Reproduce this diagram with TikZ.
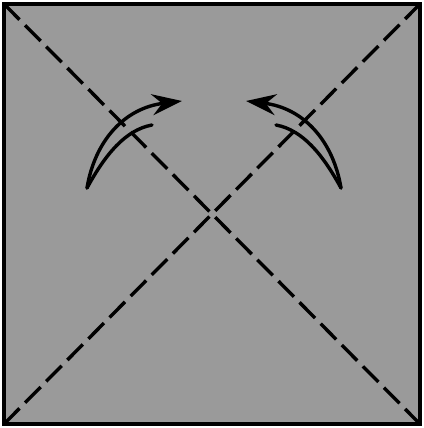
\documentclass[tikz,border=0pt]{standalone}
\usetikzlibrary{arrows.meta}
\definecolor{paper}{HTML}{9A9A9A}
\tikzset{
  diag/.style={line width=3.4pt, dash pattern=on 22pt off 8pt},
  fold/.style={line width=3.4pt, line cap=round},
  foldarrow/.style={fold, -{Stealth[length=30pt,width=21pt,inset=10pt]}}
}
\begin{document}
\begin{tikzpicture}[x=1pt,y=-1pt]
\useasboundingbox (0,0) rectangle (423,428);
\coordinate (tl) at (4,4);
\coordinate (tr) at (420,4);
\coordinate (bl) at (4,424);
\coordinate (br) at (420,424);
\fill[paper] (tl) rectangle (br);
\draw[diag] (tl) -- (br);
\draw[diag] (bl) -- (tr);
\draw[line width=3.4pt] (tl) rectangle (br);
% left fold arrow
\coordinate (ls) at (87,188);
\coordinate (lt) at (182,101);
\coordinate (li) at (152,125);
\draw[foldarrow] (ls) .. controls (95,140) and (125,108) .. (lt);
\draw[fold] (ls) .. controls (105,155) and (125,130) .. (li);
% right fold arrow
\coordinate (rs) at (341,188);
\coordinate (rt) at (246,101);
\coordinate (ri) at (276,125);
\draw[foldarrow] (rs) .. controls (333,140) and (303,108) .. (rt);
\draw[fold] (rs) .. controls (323,155) and (303,130) .. (ri);
\end{tikzpicture}
\end{document}
